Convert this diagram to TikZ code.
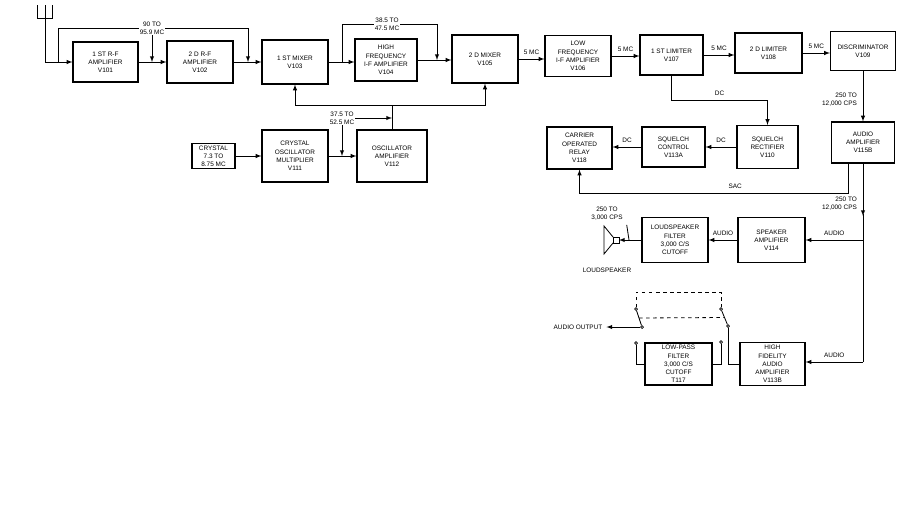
\documentclass[tikz,border=0pt]{standalone}
\usepackage{fontspec}
\setmainfont{Liberation Sans}
\usetikzlibrary{arrows,shadows,calc}

\begin{document}
\begin{tikzpicture}[x=0.03cm,y=-0.03cm,>=latex,
	every node/.style={font=\fontsize{5.5}{7}\selectfont},
	blk/.style={draw,line width=1pt,fill=white,align=center,inner sep=0.5pt,
		minimum width=1.95cm,minimum height=1.25cm,
		drop shadow={shadow xshift=0.8pt,shadow yshift=-0.8pt,fill=black,opacity=1}},
	lbl/.style={fill=white,inner sep=0.6pt,align=center},
	wire/.style={line width=0.7pt},
	contact/.style={circle,draw,fill=white,inner sep=0.9pt,line width=0.6pt}]
	\useasboundingbox (0,0) rectangle (916,522);
	
	% top row
	\node[blk,minimum height=1.2cm] (v101) at (105.5,62) {1 ST R-F\\AMPLIFIER\\V101};
	\node[blk,minimum width=1.98cm,minimum height=1.26cm] (v102) at (200,62) {2 D R-F\\AMPLIFIER\\V102};
	\node[blk,minimum width=1.98cm,minimum height=1.32cm] (v103) at (295,62) {1 ST MIXER\\V103};
	\node[blk,minimum width=1.86cm,minimum height=1.26cm] (v104) at (386,60) {HIGH\\FREQUENCY\\I-F AMPLIFIER\\V104};
	\node[blk,minimum width=1.98cm,minimum height=1.44cm] (v105) at (485,59) {2 D MIXER\\V105};
	\node[blk,minimum width=1.98cm,minimum height=1.23cm] (v106) at (578,56) {LOW\\FREQUENCY\\I-F AMPLIFIER\\V106};
	\node[blk,minimum width=1.89cm,minimum height=1.2cm] (v107) at (671.5,55) {1 ST LIMITER\\V107};
	\node[blk,minimum width=2.01cm,minimum height=1.2cm] (v108) at (768.5,53) {2 D LIMITER\\V108};
	\node[blk,minimum height=1.17cm] (v109) at (863,51) {DISCRIMINATOR\\V109};
	
	% oscillator chain
	\node[blk,minimum width=1.29cm,minimum height=0.75cm] (xtal) at (213.5,156) {CRYSTAL\\7.3 TO\\8.75 MC};
	\node[blk,minimum width=1.98cm,minimum height=1.56cm] (v111) at (295,156) {CRYSTAL\\OSCILLATOR\\MULTIPLIER\\V111};
	\node[blk,minimum width=2.1cm,minimum height=1.56cm] (v112) at (392,156) {OSCILLATOR\\AMPLIFIER\\V112};
	
	% squelch row
	\node[blk,minimum height=1.26cm] (v118) at (579.5,148) {CARRIER\\OPERATED\\RELAY\\V118};
	\node[blk,minimum width=1.89cm,minimum height=1.2cm] (v113a) at (673.5,147) {SQUELCH\\CONTROL\\V113A};
	\node[blk,minimum width=1.83cm,minimum height=1.29cm] (v110) at (767.5,147) {SQUELCH\\RECTIFIER\\V110};
	\node[blk,minimum width=1.89cm,minimum height=1.23cm] (v115b) at (863,142.5) {AUDIO\\AMPLIFIER\\V115B};
	
	% audio outputs
	\node[blk,minimum width=1.98cm,minimum height=1.35cm] (lsf) at (675,240) {LOUDSPEAKER\\FILTER\\3,000 C/S\\CUTOFF};
	\node[blk,minimum width=2.01cm,minimum height=1.35cm] (v114) at (771.5,240) {SPEAKER\\AMPLIFIER\\V114};
	\node[blk,minimum width=2.01cm,minimum height=1.26cm] (lpf) at (678.5,364) {LOW-PASS\\FILTER\\3,000 C/S\\CUTOFF\\T117};
	\node[blk,minimum height=1.29cm] (v113b) at (772.5,364) {HIGH\\FIDELITY\\AUDIO\\AMPLIFIER\\V113B};
	
	% antenna
	\coordinate (ant) at (45,18);
	\draw[wire] (37,5) -- (37,18) -- (52,18) -- (52,5);
	\draw[wire] (45,5) -- (ant);
	\draw[wire,->] (ant) |- (v101.west);
	
	% r-f and mixers
	\coordinate (j1) at (58,62);
	\coordinate (j2) at (248,62);
	\coordinate (j3) at (342,62);
	\coordinate (j4) at (437,60);
	\draw[wire,->] (v101.east) -- (v101.east -| v102.west);
	\draw[wire,->] (v102.east) -- (v102.east -| v103.west);
	\draw[wire,->] (v103.east) -- (v103.east -| v104.west);
	\draw[wire,->] (v104.east) -- (v104.east -| v105.west);
	\draw[wire,->] (j1) -- (58,28) -| (j2);
	\draw[wire,->] (j3) -- (342,24) -| (j4);
	\node[lbl] (f1) at (152,28) {90 TO\\95.9 MC};
	\node[lbl] (f2) at (387,24) {38.5 TO\\47.5 MC};
	\draw[wire,->] (f1.south) -- (f1.south |- v101.east);
	
	% i-f and limiters
	\draw[wire,->] (v105.east) -- (v105.east -| v106.west) node[midway,above]{5 MC};
	\draw[wire,->] (v106.east) -- (v106.east -| v107.west) node[midway,above]{5 MC};
	\draw[wire,->] (v107.east) -- (v107.east -| v108.west) node[midway,above]{5 MC};
	\draw[wire,->] (v108.east) -- (v108.east -| v109.west) node[midway,above]{5 MC};
	
	% oscillator injection
	\coordinate (bus) at (392,105);
	\draw[wire,->] (xtal.east) -- (xtal.east -| v111.west);
	\draw[wire,->] (v111.east) -- (v112.west);
	\draw[wire] (v112.north) -- (bus);
	\draw[wire,->] (bus) -| (v103.south);
	\draw[wire,->] (bus) -| (v105.south);
	\node[lbl] (f3) at (342,118) {37.5 TO\\52.5 MC};
	\draw[wire,->] (f3.east) -- (f3.east -| v112.north);
	\draw[wire,->] (f3.south) -- (f3.south |- v111.east);
	
	% squelch
	\draw[wire,->] (v107.south) -- (v107.south |- 0,100) -| (v110.north) node[pos=0.25,above]{DC};
	\draw[wire,->] (v110.west) -- (v110.west -| v113a.east) node[midway,above]{DC};
	\draw[wire,->] (v113a.west) -- (v113a.west -| v118.east) node[midway,above]{DC};
	\draw[wire,->] (v109.south) -- (v115b.north);
	\node[anchor=east,align=right] at (861,100) {250 TO\\12,000 CPS};
	\coordinate (s1) at (848,193);
	\draw[wire,->] (v115b.south -| s1) -- (s1) -| (v118.south) node[pos=0.21,above]{SAC};
	
	% audio
	\coordinate (a1) at (v115b.south |- v114.east);
	\coordinate (a2) at (v115b.south |- 0,362);
	\draw[wire,->] (v115b.south) -- (863,216);
	\draw[wire] (863,214) -- (a2);
	\node[anchor=east,align=right] at (861,204) {250 TO\\12,000 CPS};
	\draw[wire,->] (a1) -- (a1 -| v114.east) node[midway,above]{AUDIO};
	\draw[wire,->] (a2) -- (a2 -| v113b.east) node[midway,above]{AUDIO};
	\draw[wire,->] (v114.west) -- (v114.west -| lsf.east) node[midway,above]{AUDIO};
	
	% loudspeaker
	\coordinate (spk) at (619,240);
	\coordinate (sp1) at (629,240);
	\draw[wire] (613,237) rectangle (spk |- 0,243);
	\draw[wire] (613,237) -- (604,226) -- (604,254) -- (613,243);
	\draw[wire,->] (lsf.west) -- (spk);
	\node[align=center] (f4) at (607,214) {250 TO\\3,000 CPS};
	\draw[wire] (f4.south east) -- (sp1);
	\node at (607,270) {LOUDSPEAKER};
	
	% output switch
	\node[contact] (c1) at (642,327) {};
	\node[contact] (c2) at (636,309) {};
	\node[contact] (c3) at (636,343) {};
	\node[contact] (c4) at (728,326) {};
	\node[contact] (c5) at (721,309) {};
	\node[contact] (c6) at (721,342) {};
	\node (aout) at (578,327) {AUDIO OUTPUT};
	\draw[wire,->] (c1) -- (aout.east);
	\draw[wire] (c1) -- (c2);
	\draw[wire] (c4) -- (c5);
	\draw[wire,dashed] (c2) -- (c2 |- 0,292) -| (c5);
	\draw[wire,dashed] ($(c1)!0.5!(c2)$) -- ($(c4)!0.5!(c5)$);
	\draw[wire] (c3) |- (lpf.west);
	\draw[wire] (c6) |- (lpf.east);
	\draw[wire] (c4) |- (v113b.west);
	
\end{tikzpicture}
\end{document}
